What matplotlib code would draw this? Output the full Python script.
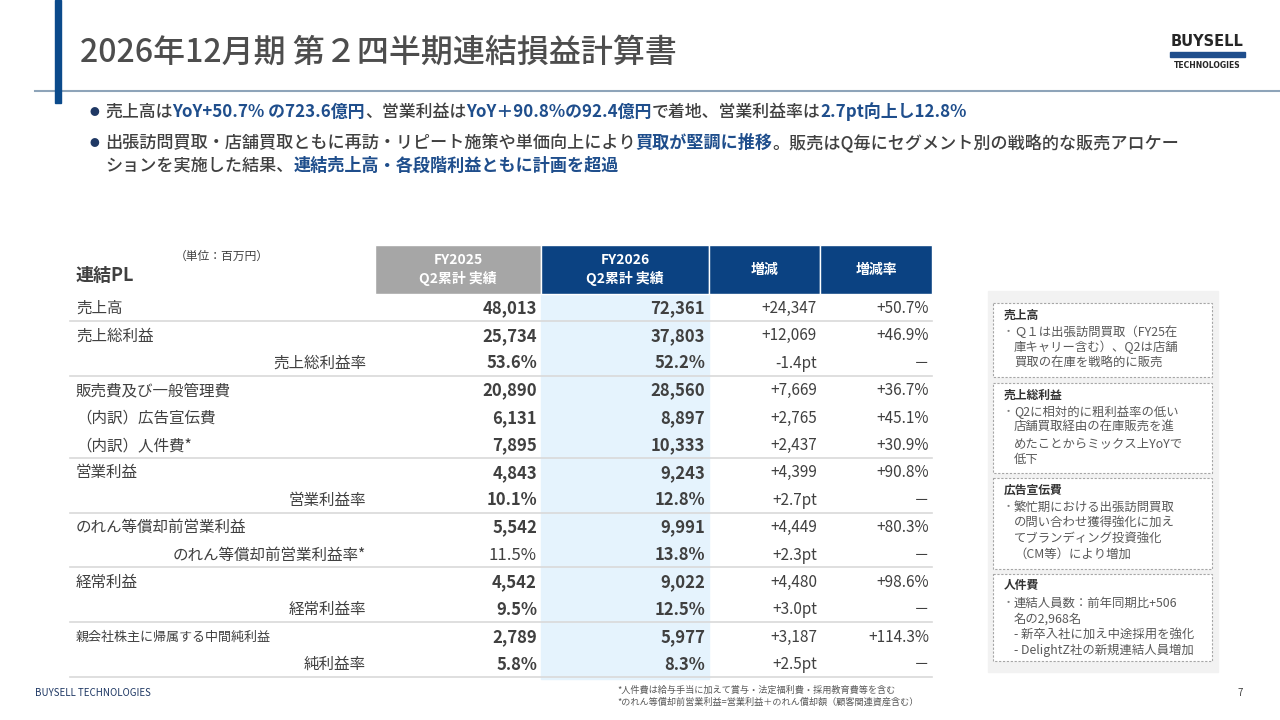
import matplotlib
matplotlib.use('Agg')
import matplotlib.pyplot as plt
from matplotlib.patches import Rectangle

plt.rcParams['font.family'] = ['Noto Sans CJK JP', 'DejaVu Sans']

# ---- data ----
title = '2026年12月期 第２四半期連結損益計算書'

bullet1 = [('売上高は', 0), ('YoY+50.7% の723.6億円', 1), ('、営業利益は', 0),
           ('YoY＋90.8%の92.4億円', 1), ('で着地、営業利益率は', 0), ('2.7pt向上し12.8%', 1)]
bullet2a = [('出張訪問買取・店舗買取ともに再訪・リピート施策や単価向上により', 0), ('買取が堅調に推移', 1),
            ('。販売はQ毎にセグメント別の戦略的な販売アロケー', 0)]
bullet2b = [('ションを実施した結果、', 0), ('連結売上高・各段階利益ともに計画を超過', 1)]

col_headers = ['FY2025\nQ2累計 実績', 'FY2026\nQ2累計 実績', '増減', '増減率']

row_labels = ['売上高', '売上総利益', '売上総利益率', '販売費及び一般管理費', '（内訳）広告宣伝費',
              '（内訳）人件費*', '営業利益', '営業利益率', 'のれん等償却前営業利益',
              'のれん等償却前営業利益率*', '経常利益', '経常利益率',
              '親会社株主に帰属する中間純利益', '純利益率']
fy2025 = ['48,013', '25,734', '53.6%', '20,890', '6,131', '7,895', '4,843', '10.1%',
          '5,542', '11.5%', '4,542', '9.5%', '2,789', '5.8%']
fy2026 = ['72,361', '37,803', '52.2%', '28,560', '8,897', '10,333', '9,243', '12.8%',
          '9,991', '13.8%', '9,022', '12.5%', '5,977', '8.3%']
diff = ['+24,347', '+12,069', '-1.4pt', '+7,669', '+2,765', '+2,437', '+4,399', '+2.7pt',
        '+4,449', '+2.3pt', '+4,480', '+3.0pt', '+3,187', '+2.5pt']
diff_rate = ['+50.7%', '+46.9%', '－', '+36.7%', '+45.1%', '+30.9%', '+90.8%', '－',
             '+80.3%', '－', '+98.6%', '－', '+114.3%', '－']
rate_rows = [2, 7, 9, 11, 13]
group_ends = [0, 2, 5, 7, 9, 11, 13]

note_titles = ['売上高', '売上総利益', '広告宣伝費', '人件費']
note_lines = [
    ['Ｑ１は出張訪問買取（FY25在', '庫キャリー含む）、Q2は店舗', '買取の在庫を戦略的に販売'],
    ['Q2に相対的に粗利益率の低い', '店舗買取経由の在庫販売を進', 'めたことからミックス上YoYで', '低下'],
    ['繁忙期における出張訪問買取', 'の問い合わせ獲得強化に加え', 'てブランディング投資強化', '（CM等）により増加'],
    ['連結人員数：前年同期比+506', '名の2,968名', '- 新卒入社に加え中途採用を強化', '- DelightZ社の新規連結人員増加'],
]
footnotes = ['*人件費は給与手当に加えて賞与・法定福利費・採用教育費等を含む',
             '*のれん等償却前営業利益=営業利益＋のれん償却額（顧客関連資産含む）']

# ---- style ----
DARK = '#404040'
BLUE = '#1f4e8c'
NAVY = '#0b4282'

fig = plt.figure(figsize=(12.8, 7.2), dpi=100)
ax = fig.add_axes([0, 0, 1, 1])
ax.set_xlim(0, 1280)
ax.set_ylim(720, 0)
ax.axis('off')
renderer = fig.canvas.get_renderer()

# header decoration
ax.add_patch(Rectangle((55, 0), 6, 103, color='#0b4a8b', zorder=3))
ax.plot([35, 1280], [91, 91], color='#8ea4b9', lw=1.5)
ax.text(80, 53, title, fontsize=23, fontweight='medium', color='#4d4d4d', va='center', ha='left')

# logo
ax.text(1207, 42, 'BUYSELL', fontsize=10.5, fontweight='bold', color='#262626',
        va='center', ha='center', family='DejaVu Sans')
ax.add_patch(Rectangle((1170, 52), 75, 5, color='#1f4e8c'))
ax.text(1207, 65, 'TECHNOLOGIES', fontsize=5.5, fontweight='bold', color='#262626',
        va='center', ha='center', family='DejaVu Sans')


def rich(x, y, parts, size):
    for s, hl in parts:
        t = ax.text(x, y, s, fontsize=size, color=BLUE if hl else DARK,
                    fontweight='bold' if hl else 'medium', va='center', ha='left')
        x += t.get_window_extent(renderer).width


ax.text(90, 112, '●', fontsize=7, color='#1f3864', va='center', ha='left')
rich(105, 112, bullet1, 12.2)
ax.text(90, 143, '●', fontsize=7, color='#1f3864', va='center', ha='left')
rich(105, 143, bullet2a, 12.3)
rich(105, 166, bullet2b, 12.3)

# ---- table ----
col_x = [375, 541, 709, 820, 932]
head_top, head_bot = 245, 294
head_colors = ['#a6a6a6', NAVY, NAVY, NAVY]
for i, h in enumerate(col_headers):
    ax.add_patch(Rectangle((col_x[i], head_top), col_x[i + 1] - col_x[i], head_bot - head_top,
                           facecolor=head_colors[i], edgecolor='white', lw=1))
    ax.text((col_x[i] + col_x[i + 1]) / 2, (head_top + head_bot) / 2, h, fontsize=10,
            fontweight='bold', color='white', va='center', ha='center', linespacing=1.3)

ax.text(76, 275, '連結PL', fontsize=13, fontweight='bold', color=DARK, va='center', ha='left')
ax.text(175, 256, '（単位：百万円）', fontsize=8.5, color=DARK, va='center', ha='left')

y0, step = 308.5, 27.4
ax.add_patch(Rectangle((col_x[1], head_bot), col_x[2] - col_x[1], 385, color='#e5f3fd', zorder=0))

for i, lab in enumerate(row_labels):
    y = y0 + i * step
    if i in rate_rows:
        ax.text(366, y, lab, fontsize=11.2, color=DARK, va='center', ha='right')
    else:
        fs = 9.4 if i == 12 else 11.2
        ax.text(76, y, lab, fontsize=fs, color=DARK, va='center', ha='left')
    w25 = 'normal' if i == 9 else 'bold'
    ax.text(537, y, fy2025[i], fontsize=12, fontweight=w25, color=DARK, va='center', ha='right')
    ax.text(705, y, fy2026[i], fontsize=12, fontweight='bold', color=DARK, va='center', ha='right')
    ax.text(817, y, diff[i], fontsize=11, color=DARK, va='center', ha='right')
    ax.text(929, y, diff_rate[i], fontsize=11, color=DARK, va='center', ha='right')

for g in group_ends:
    yl = y0 + (g + 0.5) * step - 1.5
    ax.plot([70, 932], [yl, yl], color='#d9d9d9', lw=1.2, zorder=1)

# ---- right notes panel ----
ax.add_patch(Rectangle((988, 291), 230, 381, color='#f2f2f2', zorder=0))
box_tops = [303, 383, 478, 574]
box_bots = [377, 473, 569, 661]
for k in range(4):
    ax.add_patch(Rectangle((993, box_tops[k]), 219, box_bots[k] - box_tops[k], facecolor='white',
                           edgecolor='#a6a6a6', lw=0.8, ls=(0, (2, 1.5))))
    ty = box_tops[k] + 12
    ax.text(1004, ty, note_titles[k], fontsize=8.5, fontweight='bold', color='#333333',
            va='center', ha='left')
    for j, line in enumerate(note_lines[k]):
        ly = ty + 17 + j * 15.7
        if j == 0:
            ax.text(1003, ly, '・', fontsize=8, color='#7f7f7f', va='center', ha='left')
        ax.text(1014, ly, line, fontsize=8.9, color='#595959', va='center', ha='left')

# ---- footer ----
ax.text(35, 693, 'BUYSELL TECHNOLOGIES', fontsize=7, color='#1f3864', va='center', ha='left')
ax.text(617, 690, footnotes[0], fontsize=6.6, color='#595959', va='center', ha='left')
ax.text(617, 702, footnotes[1], fontsize=6.6, color='#595959', va='center', ha='left')
ax.text(1243, 693, '7', fontsize=7, color='#404040', va='center', ha='right')

fig.savefig('out.png', dpi=100)
